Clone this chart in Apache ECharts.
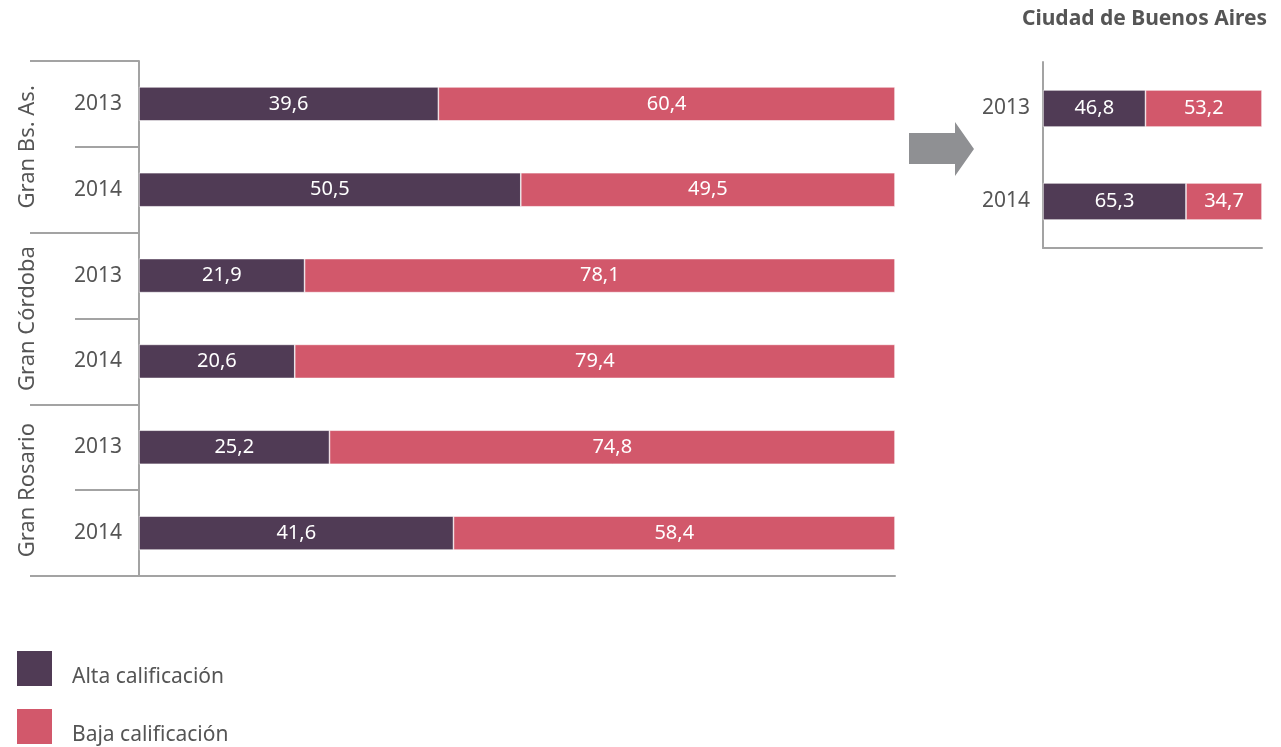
<!DOCTYPE html>
<html>
<head>
<meta charset="utf-8">
<script src="https://cdn.jsdelivr.net/npm/echarts@6/dist/echarts.min.js"></script>
<style>html,body{margin:0;padding:0;background:#fff}#c{width:1281px;height:747px}</style>
</head>
<body>
<div id="c"></div>
<script>
const groups = ['Gran Bs. As.', 'Gran Córdoba', 'Gran Rosario'];
const years = ['2013', '2014', '2013', '2014', '2013', '2014'];
const alta = [39.6, 50.5, 21.9, 20.6, 25.2, 41.6];
const baja = [60.4, 49.5, 78.1, 79.4, 74.8, 58.4];
const cabaTitle = 'Ciudad de Buenos Aires';
const cabaYears = ['2013', '2014'];
const cabaAlta = [46.8, 65.3];
const cabaBaja = [53.2, 34.7];
const seriesNames = ['Alta calificación', 'Baja calificación'];

const C_ALTA = '#503b55';
const C_BAJA = '#d2586b';
const GREY = '#a3a3a3';
const TXT = '#555555';
const FONT = 'Noto Sans';

const fmt = p => String(p.value).replace('.', ',');
const lbl = {show: true, position: 'inside', color: '#fff', fontSize: 20, fontFamily: FONT, formatter: fmt};

const chart = echarts.init(document.getElementById('c'));
chart.setOption({
  backgroundColor: '#fff',
  textStyle: {fontFamily: FONT},
  title: {
    text: cabaTitle, right: 14, top: 9, padding: 0,
    textStyle: {fontFamily: FONT, fontSize: 21, fontWeight: 'bold', color: TXT}
  },
  legend: {
    orient: 'vertical', left: 15, top: 646, height: 101, padding: 0, itemWidth: 37, itemHeight: 37, itemGap: 16,
    icon: 'rect', data: seriesNames,
    formatter: name => '{s|}\n{t|' + name + '}',
    textStyle: {fontFamily: FONT, fontSize: 21, color: TXT,
      rich: {s: {height: 18, lineHeight: 18}, t: {fontFamily: FONT, fontSize: 21, color: TXT, lineHeight: 24, padding: [0, 0, 0, 14]}}}
  },
  grid: [
    {left: 139, right: 386, top: 61, bottom: 171},
    {left: 1043, right: 19, top: 62, bottom: 499}
  ],
  xAxis: [
    {gridIndex: 0, type: 'value', min: 0, max: 100, axisLabel: {show: false}, splitLine: {show: false},
     axisTick: {show: false}, axisLine: {show: true, lineStyle: {color: GREY, width: 2}}},
    {gridIndex: 1, type: 'value', min: 0, max: 100, axisLabel: {show: false}, splitLine: {show: false},
     axisTick: {show: false}, axisLine: {show: true, lineStyle: {color: GREY, width: 2}}}
  ],
  yAxis: [
    {gridIndex: 0, type: 'category', data: years, inverse: true,
     axisLine: {show: true, lineStyle: {color: GREY, width: 2}},
     axisTick: {show: true, length: 64, interval: 0, lineStyle: {color: GREY, width: 2}},
     axisLabel: {margin: 17, fontSize: 21, color: TXT, fontFamily: FONT, interval: 0}},
    {gridIndex: 0, type: 'category', data: groups, inverse: true, position: 'left',
     axisLine: {show: false},
     axisTick: {show: true, length: 109, interval: 0, lineStyle: {color: GREY, width: 2}},
     axisLabel: {margin: 100, rotate: 90, fontSize: 22, color: TXT, fontFamily: FONT, interval: 0}},
    {gridIndex: 1, type: 'category', data: cabaYears, inverse: true,
     axisLine: {show: true, lineStyle: {color: GREY, width: 2}},
     axisTick: {show: false},
     axisLabel: {margin: 13, fontSize: 21, color: TXT, fontFamily: FONT}}
  ],
  series: [
    {name: seriesNames[0], type: 'bar', stack: 'a', xAxisIndex: 0, yAxisIndex: 0, data: alta, barWidth: 34,
     itemStyle: {color: C_ALTA, borderColor: '#fff', borderWidth: 0.6}, label: lbl},
    {name: seriesNames[1], type: 'bar', stack: 'a', xAxisIndex: 0, yAxisIndex: 0, data: baja, barWidth: 34,
     itemStyle: {color: C_BAJA, borderColor: '#fff', borderWidth: 0.6}, label: lbl},
    {name: seriesNames[0], type: 'bar', stack: 'b', xAxisIndex: 1, yAxisIndex: 2, data: cabaAlta, barWidth: 37,
     itemStyle: {color: C_ALTA, borderColor: '#fff', borderWidth: 0.6}, label: lbl},
    {name: seriesNames[1], type: 'bar', stack: 'b', xAxisIndex: 1, yAxisIndex: 2, data: cabaBaja, barWidth: 37,
     itemStyle: {color: C_BAJA, borderColor: '#fff', borderWidth: 0.6}, label: lbl}
  ],
  graphic: [
    {type: 'polygon', shape: {points: [[909, 133], [955, 133], [955, 122], [974, 149], [955, 176], [955, 164], [909, 164]]},
     style: {fill: '#8f9093'}}
  ]
});
</script>
</body>
</html>
